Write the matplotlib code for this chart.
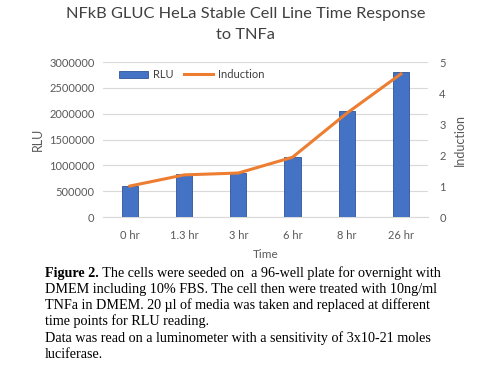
import matplotlib
matplotlib.use("Agg")
import matplotlib.pyplot as plt
import numpy as np

categories = ["0 hr", "1.3 hr", "3 hr", "6 hr", "8 hr", "26 hr"]
rlu = [595000, 830000, 852000, 1165000, 2050000, 2815000]
induction = [1.0, 1.36, 1.42, 1.93, 3.35, 4.62]
title = "NFkB GLUC HeLa Stable Cell Line Time Response\nto TNFa"

plt.rcParams["font.family"] = ["Lato", "DejaVu Sans"]

fig = plt.figure(figsize=(4.92, 3.70), dpi=100)
ax = fig.add_axes([0.209, 0.4135, 0.661, 0.4185])
x = np.arange(len(categories))
bars = ax.bar(x, rlu, width=0.3, color="#4472C4", edgecolor="#2F5597", linewidth=0.6, label="RLU", zorder=3)
ax.set_xlim(-0.5, len(categories) - 0.5)
ax.set_ylim(0, 3000000)
ax.set_yticks(np.arange(0, 3000001, 500000))
ax.yaxis.set_major_formatter(matplotlib.ticker.FuncFormatter(lambda v, p: f"{int(v)}"))
ax.set_xticks(x)
ax.set_xticklabels(categories)
ax.grid(axis="y", color="#D9D9D9", linewidth=0.8, zorder=0)
for s in ["top", "left", "right"]:
    ax.spines[s].set_visible(False)
ax.spines["bottom"].set_color("#D9D9D9")
ax.tick_params(axis="both", length=0, labelsize=8, colors="#595959", pad=6)
ax.tick_params(axis="x", pad=9)
ax.set_ylabel("RLU", fontsize=9, color="#595959", labelpad=4)
ax.set_xlabel("Time", fontsize=8.5, color="#595959", labelpad=6)

ax2 = ax.twinx()
line, = ax2.plot(x, induction, color="#ED7D31", linewidth=2.2, label="Induction", zorder=4)
ax2.set_ylim(0, 5)
ax2.set_yticks(range(0, 6))
for s in ["top", "left", "right", "bottom"]:
    ax2.spines[s].set_visible(False)
ax2.tick_params(axis="y", length=0, labelsize=8, colors="#595959", pad=8)
ax2.set_ylabel("Induction", fontsize=9, color="#595959", labelpad=6)

leg = ax.legend([bars, line], ["RLU", "Induction"], loc="upper left", bbox_to_anchor=(0.02, 1.02),
                ncol=2, frameon=False, fontsize=8, handlelength=2.6, handleheight=0.6,
                columnspacing=1.0, handletextpad=0.4, labelcolor="#404040")

fig.text(0.5, 0.982, title, ha="center", va="top", fontsize=11.8, color="#404040",
         linespacing=1.65)

cap_lines = [
    ("Figure 2.", " The cells were seeded on  a 96-well plate for overnight with"),
    ("", "DMEM including 10% FBS. The cell then were treated with 10ng/ml"),
    ("", "TNFa in DMEM. 20 \u00b5l of media was taken and replaced at different"),
    ("", "time points for RLU reading."),
    ("", "Data was read on a luminometer with a sensitivity of 3x10-21 moles"),
    ("", "luciferase."),
]
ys = [273, 289, 305, 321, 338, 354]
for (b, t), yy in zip(cap_lines, ys):
    xpos = 45 / 492
    if b:
        tb = fig.text(xpos, 1 - yy / 370, b, ha="left", va="center", fontsize=10.2,
                      family="Liberation Serif", weight="bold", color="black")
        fig.canvas.draw()
        bb = tb.get_window_extent()
        xpos = bb.x1 / fig.bbox.width
    fig.text(xpos, 1 - yy / 370, t, ha="left", va="center", fontsize=10.2,
             family="Liberation Serif", color="black")

fig.savefig("out.png", dpi=100)
